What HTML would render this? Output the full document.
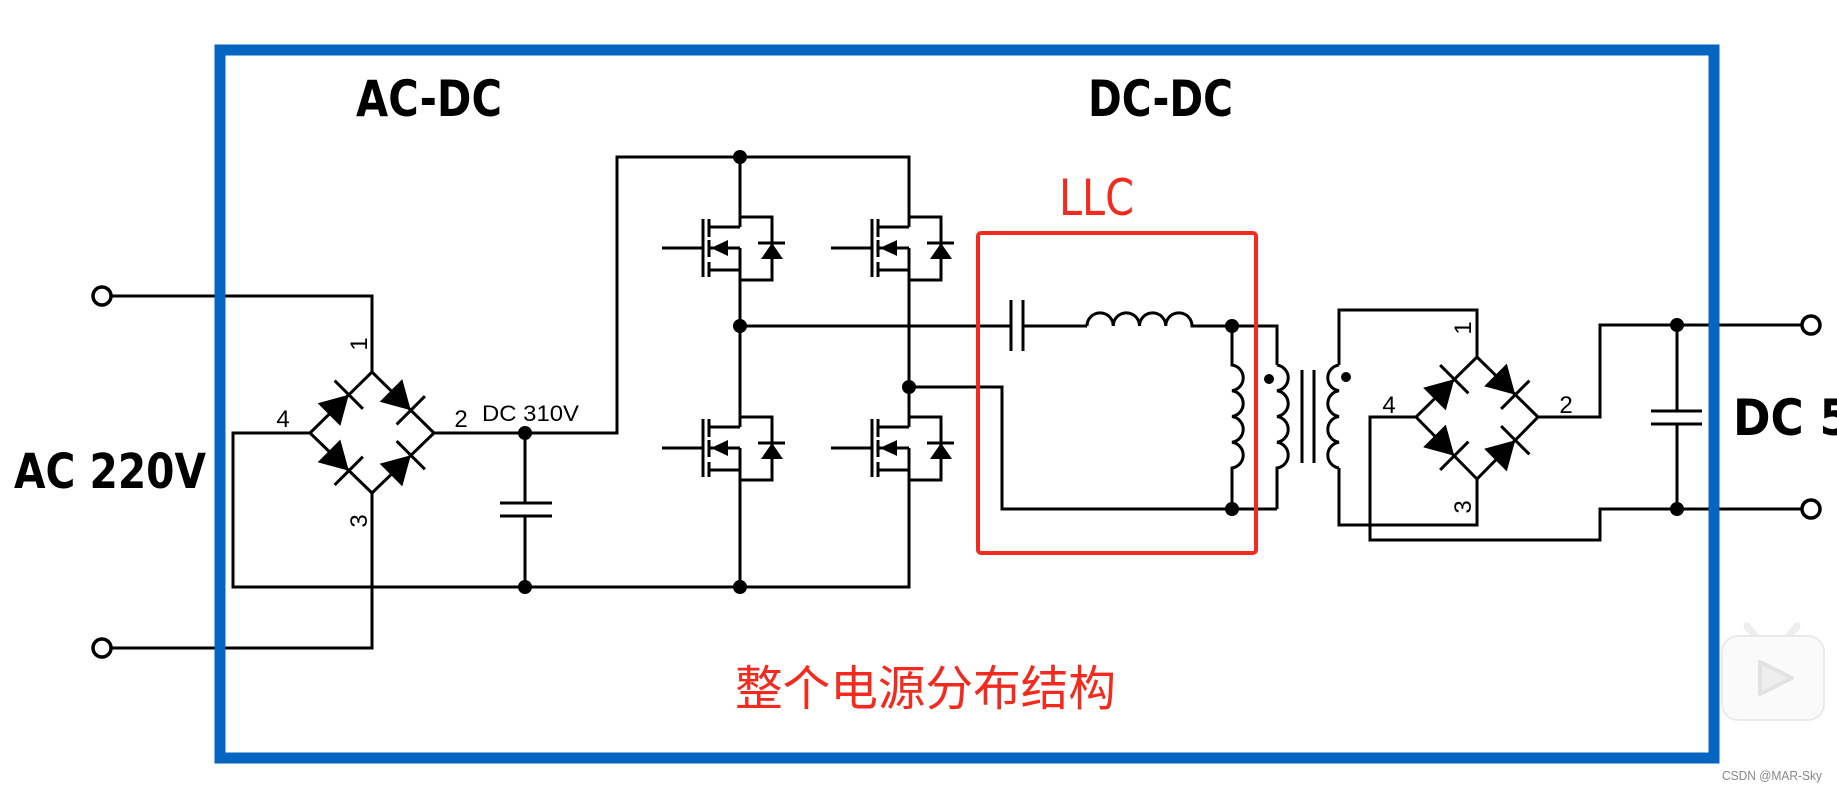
<!DOCTYPE html>
<html><head><meta charset="utf-8"><style>
html,body{margin:0;padding:0;background:#fff;}
svg{display:block;}
</style></head><body>
<svg width="1837" height="793" viewBox="0 0 1837 793" xmlns="http://www.w3.org/2000/svg">
<defs>
<g id="mos" fill="none" stroke="#000" stroke-width="3">
  <path d="M0,10 H-32 M0,0 H32 V63 H0 M0,53 H-32 M0,31 V53"/>
  <path d="M-31,31 H0"/>
  <path d="M-31,2 V20 M-31,23 V40 M-31,45 V60"/>
  <path d="M-37,2 V60 M-78,31 H-37"/>
  <polygon points="-29,31 -12,23 -12,39" fill="#000" stroke="none"/>
  <path d="M18,26 H45"/>
  <polygon points="32,26 21,42 43,42" fill="#000" stroke="none"/>
</g>
<g id="dio">
  <polygon points="-17,-16 11,0 -17,16" fill="#000"/>
  <path d="M11,-20 V20" stroke="#000" stroke-width="3"/>
</g>
</defs>

<g fill="none" stroke="#000" stroke-width="3">
  <path d="M112,296 H372 V372"/>
  <path d="M112,648 H372 V493"/>
  <path d="M310,433 H233 V587 H909 V448"/>
  <path d="M372,372 L434,433 L372,493 L310,433 Z"/>
  <path d="M434,433 H617 V157 H909 V227"/>
  <path d="M525,433 V503 M500,503 H552 M500,516 H552 M525,516 V587"/>
  <path d="M740,157 V227 M740,248 V427 M740,448 V587"/>
  <path d="M909,248 V427"/>
  <path d="M740,326 H1011 M1023,326 H1087"/>
  <path d="M1011,300 V351 M1023,300 V351"/>
  <path d="M1087,326 a13,13 0 0 1 26.25,0 a13,13 0 0 1 26.25,0 a13,13 0 0 1 26.25,0 a13,13 0 0 1 26.25,0 H1277 V365"/>
  <path d="M909,387 H1002 V509 H1277"/>
  <path d="M1232,326 V365 a13,13 0 0 1 0,25.75 a13,13 0 0 1 0,25.75 a13,13 0 0 1 0,25.75 a13,13 0 0 1 0,25.75 V509"/>
  <path d="M1277,365 a13,13 0 0 1 0,25.75 a13,13 0 0 1 0,25.75 a13,13 0 0 1 0,25.75 a13,13 0 0 1 0,25.75 V509"/>
  <path d="M1302,370 V463 M1314,370 V463"/>
  <path d="M1339,365 a13,13 0 0 0 0,25.75 a13,13 0 0 0 0,25.75 a13,13 0 0 0 0,25.75 a13,13 0 0 0 0,25.75"/>
  <path d="M1339,365 V310 H1477 V357"/>
  <path d="M1339,468 V525 H1477 V479"/>
  <path d="M1477,357 L1538,417 L1477,479 L1416,417 Z"/>
  <path d="M1416,417 H1370 V540 H1600 V509 H1801"/>
  <path d="M1538,417 H1600 V325 H1801"/>
  <path d="M1677,325 V411 M1651,411 H1702 M1651,424 H1702 M1677,424 V509"/>
</g>

<use href="#mos" x="740" y="217"/>
<use href="#mos" x="740" y="417"/>
<use href="#mos" x="909" y="217"/>
<use href="#mos" x="909" y="417"/>

<use href="#dio" transform="translate(341,402.5) rotate(-45)"/>
<use href="#dio" transform="translate(403,402.5) rotate(45)"/>
<use href="#dio" transform="translate(341,463) rotate(45)"/>
<use href="#dio" transform="translate(403,463) rotate(-45)"/>
<use href="#dio" transform="translate(1446.5,387) rotate(-45)"/>
<use href="#dio" transform="translate(1507.5,387) rotate(45)"/>
<use href="#dio" transform="translate(1446.5,448) rotate(45)"/>
<use href="#dio" transform="translate(1507.5,448) rotate(-45)"/>

<g fill="#000">
  <circle cx="525" cy="433" r="7"/><circle cx="525" cy="587" r="7"/>
  <circle cx="740" cy="157" r="7"/><circle cx="740" cy="326" r="7"/><circle cx="740" cy="587" r="7"/>
  <circle cx="909" cy="387" r="7"/>
  <circle cx="1232" cy="326" r="7"/><circle cx="1232" cy="509" r="7"/>
  <circle cx="1677" cy="325" r="7"/><circle cx="1677" cy="509" r="7"/>
  <circle cx="1269" cy="379" r="5"/><circle cx="1346" cy="377" r="5"/>
</g>
<g fill="#fff" stroke="#000" stroke-width="3.5">
  <circle cx="102" cy="296" r="9"/><circle cx="102" cy="648" r="9"/>
  <circle cx="1811" cy="325" r="9"/><circle cx="1811" cy="509" r="9"/>
</g>

<g font-family="'Liberation Sans', sans-serif" font-size="24" fill="#000">
  <text x="283" y="427" text-anchor="middle">4</text>
  <text x="461" y="427" text-anchor="middle">2</text>
  <text transform="translate(367,344) rotate(-90)" text-anchor="middle">1</text>
  <text transform="translate(367,521) rotate(-90)" text-anchor="middle">3</text>
  <text x="482" y="421" textLength="97" lengthAdjust="spacingAndGlyphs" font-size="22">DC 310V</text>
  <text x="1389" y="413" text-anchor="middle">4</text>
  <text x="1566" y="413" text-anchor="middle">2</text>
  <text transform="translate(1471,328) rotate(-90)" text-anchor="middle">1</text>
  <text transform="translate(1471,507) rotate(-90)" text-anchor="middle">3</text>
</g>

<rect x="978" y="233" width="278" height="320" rx="3" fill="none" stroke="#f52a1e" stroke-width="4"/>
<text x="1059" y="215" font-family="'DejaVu Sans', sans-serif" font-size="50" fill="#f52a1e" textLength="75" lengthAdjust="spacingAndGlyphs">LLC</text>

<rect x="220" y="50" width="1494" height="708" fill="none" stroke="#0565c0" stroke-width="11"/>

<g font-family="'DejaVu Sans', 'Liberation Sans', sans-serif" font-weight="bold" fill="#000">
  <text x="356" y="116" font-size="50" textLength="146" lengthAdjust="spacingAndGlyphs">AC-DC</text>
  <text x="1088" y="116" font-size="50" textLength="145" lengthAdjust="spacingAndGlyphs">DC-DC</text>
  <text x="14" y="488" font-size="48" textLength="192" lengthAdjust="spacingAndGlyphs">AC 220V</text>
  <text x="1733" y="435" font-size="50" textLength="118" lengthAdjust="spacingAndGlyphs">DC 5</text>
</g>
<text x="735" y="705" font-family="'Liberation Sans', 'Noto Sans CJK SC', sans-serif" font-size="48" fill="#f52a1e" textLength="381" lengthAdjust="spacingAndGlyphs">整个电源分布结构</text>

<g>
  <path d="M1747,626 l10,12 M1797,626 l-10,12" stroke="#eee" stroke-width="7" stroke-linecap="round"/>
  <rect x="1722" y="636" width="102" height="84" rx="16" fill="#fafafa" stroke="#eaeaea" stroke-width="2"/>
  <path d="M1760,662 L1792,678 L1760,694 Z" fill="#eeeeee" stroke="#e2e2e2" stroke-width="4" stroke-linejoin="round"/>
</g>
<text x="1722" y="780" font-family="'Liberation Sans', sans-serif" font-size="13" fill="#888" textLength="100" lengthAdjust="spacingAndGlyphs">CSDN @MAR-Sky</text>
</svg>
</body></html>
